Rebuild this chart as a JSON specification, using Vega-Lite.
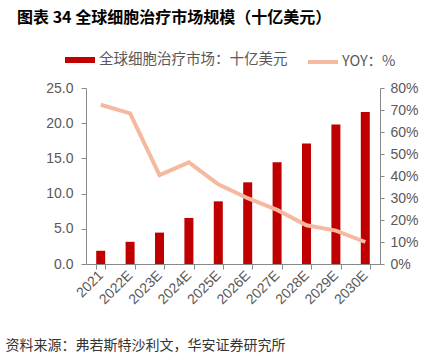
{
  "$schema": "https://vega.github.io/schema/vega-lite/v6.json",
  "width": 294,
  "height": 176,
  "padding": {"left": 5, "top": 10, "right": 5, "bottom": 5},
  "background": "white",
  "title": {
    "text": "图表 34  全球细胞治疗市场规模（十亿美元）",
    "anchor": "start",
    "frame": "bounds",
    "dx": 12,
    "font": "Noto Sans CJK SC",
    "fontSize": 16,
    "fontWeight": "bold",
    "color": "#000000",
    "offset": 19
  },
  "data": {
    "values": [
      {"year": "2021", "market": 1.88, "yoy": 0.724},
      {"year": "2022E", "market": 3.15, "yoy": 0.685},
      {"year": "2023E", "market": 4.46, "yoy": 0.404},
      {"year": "2024E", "market": 6.54, "yoy": 0.462},
      {"year": "2025E", "market": 8.9, "yoy": 0.362},
      {"year": "2026E", "market": 11.6, "yoy": 0.299},
      {"year": "2027E", "market": 14.45, "yoy": 0.246},
      {"year": "2028E", "market": 17.1, "yoy": 0.176},
      {"year": "2029E", "market": 19.8, "yoy": 0.152},
      {"year": "2030E", "market": 21.6, "yoy": 0.10}
    ]
  },
  "encoding": {
    "x": {
      "field": "year",
      "type": "ordinal",
      "sort": null,
      "scale": {"paddingInner": 0.68, "paddingOuter": 0.34},
      "axis": {
        "title": "资料来源：弗若斯特沙利文，华安证券研究所",
        "titleFont": "Noto Sans CJK SC",
        "titleFontSize": 14,
        "titleFontWeight": "normal",
        "titleColor": "#333333",
        "titleAnchor": "start",
        "titleAlign": "left",
        "titleBaseline": "middle",
        "titleX": -81,
        "titleY": 81,
        "labelAngle": -45,
        "labelAlign": "right",
        "labelBaseline": "middle",
        "labelPadding": 4,
        "labelFont": "Liberation Sans",
        "labelFontSize": 14,
        "labelColor": "#595959",
        "tickBand": "extent",
        "tickSize": 5,
        "tickColor": "#898989",
        "domainColor": "#898989",
        "grid": false
      }
    }
  },
  "layer": [
    {
      "mark": {"type": "bar", "size": 9},
      "encoding": {
        "y": {
          "field": "market",
          "type": "quantitative",
          "scale": {"domain": [0, 25]},
          "axis": {
            "title": null,
            "orient": "left",
            "values": [0, 5, 10, 15, 20, 25],
            "format": ".1f",
            "labelFont": "Liberation Sans",
            "labelFontSize": 14,
            "labelColor": "#595959",
            "labelPadding": 8,
            "tickSize": 5,
            "tickColor": "#898989",
            "domainColor": "#898989",
            "grid": false
          }
        },
        "fill": {
          "datum": "全球细胞治疗市场：十亿美元",
          "type": "nominal",
          "scale": {"range": ["#C00000"]},
          "legend": {
            "title": null,
            "orient": "none",
            "legendX": -21,
            "legendY": -43,
            "symbolType": "M-1,-0.2H1V0.2H-1Z",
            "symbolSize": 900,
            "symbolStrokeWidth": 0,
            "labelOffset": 4,
            "labelFont": "Noto Sans CJK SC",
            "labelFontSize": 14.5,
            "labelColor": "#595959",
            "labelLimit": 400
          }
        }
      }
    },
    {
      "mark": {"type": "line", "strokeWidth": 4, "strokeJoin": "miter"},
      "encoding": {
        "y": {
          "field": "yoy",
          "type": "quantitative",
          "scale": {"domain": [0, 0.8]},
          "axis": {
            "title": null,
            "orient": "right",
            "values": [0, 0.1, 0.2, 0.3, 0.4, 0.5, 0.6, 0.7, 0.8],
            "format": ".0%",
            "labelFont": "Liberation Sans",
            "labelFontSize": 14,
            "labelColor": "#595959",
            "labelPadding": 6,
            "tickSize": 4,
            "tickColor": "#898989",
            "domainColor": "#898989",
            "grid": false
          }
        },
        "stroke": {
          "datum": "YOY：%",
          "type": "nominal",
          "scale": {"range": ["#F5B9A0"]},
          "legend": {
            "title": null,
            "orient": "none",
            "legendX": 220,
            "legendY": -43,
            "symbolType": "stroke",
            "symbolSize": 900,
            "symbolStrokeWidth": 4,
            "labelOffset": 2,
            "labelFont": "Noto Sans CJK SC",
            "labelFontSize": 14.5,
            "labelColor": "#595959"
          }
        }
      }
    }
  ],
  "resolve": {"scale": {"y": "independent", "fill": "independent", "stroke": "independent"}},
  "config": {"view": {"stroke": null}}
}
